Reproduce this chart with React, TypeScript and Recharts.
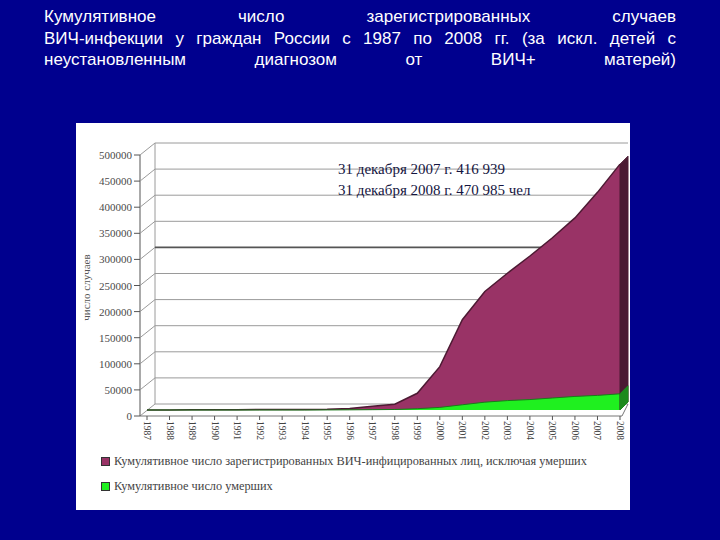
import React from 'react';
import { ComposedChart, Area, XAxis, YAxis, CartesianGrid, Legend } from 'recharts';

const years = ['1987','1988','1989','1990','1991','1992','1993','1994','1995','1996','1997','1998','1999','2000','2001','2002','2003','2004','2005','2006','2007','2008'];
const registered = [100,200,500,600,700,800,900,1000,1200,2800,7000,11000,32000,83000,173000,227000,262000,295000,330000,368000,416939,470985];
const deceased = [0,0,0,0,0,0,0,0,100,300,600,1000,2500,5000,10000,15000,18000,20000,23000,26000,28000,31000];
const yTicks = [0,50000,100000,150000,200000,250000,300000,350000,400000,450000,500000];
const titleLines = [
  'Кумулятивное число зарегистрированных случаев',
  'ВИЧ-инфекции у граждан России с 1987 по 2008 гг. (за искл. детей с',
  'неустановленным диагнозом от ВИЧ+ матерей)',
];
const notes = ['31 декабря 2007 г. 416 939', '31 декабря 2008 г. 470 985 чел'];

const seriesNames: Record<string, string> = {
  registered: 'Кумулятивное число зарегистрированных ВИЧ-инфицированных лиц, исключая умерших',
  deceased: 'Кумулятивное число умерших',
};
const seriesColors: Record<string, string> = { registered: '#993366', deceased: '#1ff01f' };
const sideColors: Record<string, string> = { registered: '#4a1a33', deceased: '#1c8a1c' };
const legendOrder = ['registered', 'deceased'];

const data = years.map((y, i) => ({ year: y, registered: registered[i], deceased: deceased[i] }));

const DX = 15;
const DY = 6;
const GRID = '#9a9a9a';

const renderGridLine = (p: any) => {
  const { x1, x2, y1, index, y, height } = p;
  const heavy = Math.abs(y1 - (y + height * 0.4)) < 1;
  const els: any[] = [
    <line key="b" x1={x1 + DX} y1={y1 - DY} x2={x2 + 6} y2={y1 - DY} stroke={heavy ? '#555' : GRID} strokeWidth={heavy ? 1.6 : 1} />,
    <line key="d" x1={x1} y1={y1 + DY} x2={x1 + DX} y2={y1 - DY} stroke={GRID} />,
  ];
  if (index === 0 && typeof y === 'number' && typeof height === 'number') {
    els.push(<line key="lw" x1={x1 + DX} y1={y - DY} x2={x1 + DX} y2={y + height - DY} stroke={GRID} />);
    els.push(<line key="fa" x1={x1} y1={y + DY} x2={x1} y2={y + height + DY} stroke="#555" />);
    els.push(<line key="ff" x1={x1} y1={y + height + DY} x2={x2} y2={y + height + DY} stroke="#777" />);
    els.push(<line key="fr" x1={x2} y1={y + height + DY} x2={x2 + 6} y2={y + height - DY} stroke="#777" />);
  }
  return <g key={p.key}>{els}</g>;
};

const makeSideFace = (key: string) => (props: any) => {
  const { cx, cy, index, points } = props;
  if (!points || index !== points.length - 1) return <g key={`s-${key}-${index}`} />;
  const base = points[0].y;
  const d = 8;
  const pts = `${cx},${cy} ${cx + d},${cy - d} ${cx + d},${base - d} ${cx},${base}`;
  return <polygon key={`s-${key}-${index}`} points={pts} fill={sideColors[key]} stroke={sideColors[key]} />;
};

const YTick = (props: any) => {
  const { x, y, payload } = props;
  return (
    <g>
      <line x1={x - 6} y1={y + DY} x2={x} y2={y + DY} stroke="#555" />
      <text x={x - 8} y={y + DY} textAnchor="end" dominantBaseline="central" fontFamily="Liberation Serif" fontSize={11} fill="#4a4a4a">{payload.value}</text>
    </g>
  );
};

const XTick = (props: any) => {
  const { x, y, payload } = props;
  return (
    <g>
      <line x1={x} y1={y + DY} x2={x} y2={y + DY + 4} stroke="#555" />
      <text transform={`translate(${x},${y + DY + 5}) rotate(90)`} textAnchor="start" dominantBaseline="central" fontFamily="Liberation Serif" fontSize={9.5} fill="#444">{payload.value}</text>
    </g>
  );
};

const LegendContent = (props: any) => {
  const { payload } = props;
  const items = [...(payload || [])].sort((a: any, b: any) => legendOrder.indexOf(a.dataKey) - legendOrder.indexOf(b.dataKey));
  return (
    <div style={{ fontFamily: 'Liberation Serif', fontSize: 12.3, color: '#444' }}>
      {items.map((e: any) => (
        <div key={e.dataKey} style={{ display: 'flex', alignItems: 'center', height: 25 }}>
          <span style={{ width: 7, height: 7, background: seriesColors[e.dataKey], border: '1px solid #333', marginRight: 4, display: 'inline-block' }} />
          <span>{seriesNames[e.dataKey]}</span>
        </div>
      ))}
    </div>
  );
};

export default function App() {
  return (
    <div style={{ position: 'absolute', left: 0, top: 0, width: 720, height: 540, background: '#00008e', overflow: 'hidden' }}>
      <div style={{ position: 'absolute', left: 44, top: 6, width: 632, color: '#fff', fontFamily: '"Liberation Sans", Arial, sans-serif', fontSize: 17, lineHeight: '21.5px' }}>
        {titleLines.map((t) => (
          <div key={t} style={{ textAlign: 'justify', textAlignLast: 'justify' as any, whiteSpace: 'nowrap' as any }}>{t}</div>
        ))}
      </div>
      <div style={{ position: 'absolute', left: 76, top: 123, width: 554, height: 387, background: '#fff' }}>
        <ComposedChart width={554} height={387} data={data} margin={{ top: 26, right: 8, bottom: 0, left: 4 }}>
          <CartesianGrid horizontal={renderGridLine} vertical={false} />
          <XAxis dataKey="year" height={100} tickSize={0} tickMargin={0} axisLine={false} tickLine={false} padding={{ left: 7, right: 2 }} tick={<XTick />} interval={0} />
          <YAxis width={60} domain={[0, 500000]} ticks={yTicks} tickSize={0} tickMargin={0} axisLine={false} tickLine={false} tick={<YTick />} interval={0}
            label={{ value: 'число случаев', angle: -90, position: 'insideLeft', offset: 6, dy: 8, style: { fontFamily: 'Liberation Serif', fontSize: 11, fill: '#555', textAnchor: 'middle' } }} />
          <Area dataKey="registered" type="linear" fill="#993366" fillOpacity={1} stroke="#4d1a33" strokeWidth={1.5} isAnimationActive={false} dot={makeSideFace('registered')} activeDot={false} />
          <Area dataKey="deceased" type="linear" fill="#1ff01f" fillOpacity={1} stroke="#1a7a1a" strokeWidth={1} isAnimationActive={false} dot={makeSideFace('deceased')} activeDot={false} />
          <Legend layout="vertical" align="center" verticalAlign="middle" content={<LegendContent />} wrapperStyle={{ left: 25, top: 326, width: 520 }} />
        </ComposedChart>
        <div style={{ position: 'absolute', left: 262, top: 36, fontFamily: 'Liberation Serif', fontSize: 15, lineHeight: '21px', color: '#15153f' }}>
          {notes.map((n) => <div key={n}>{n}</div>)}
        </div>
      </div>
    </div>
  );
}
